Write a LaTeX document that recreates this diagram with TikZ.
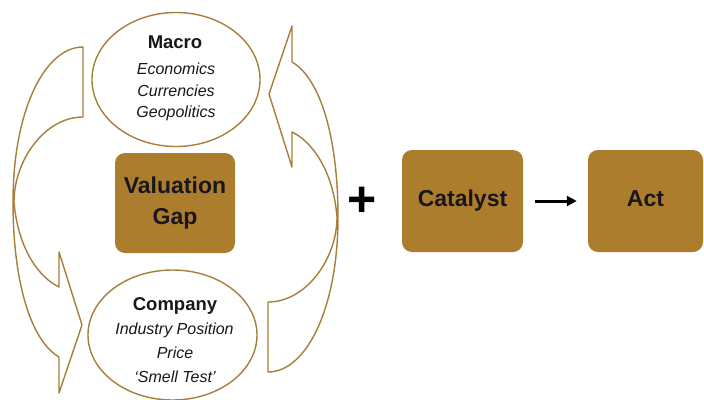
\documentclass[tikz,border=0pt]{standalone}
\usepackage{fontspec}
\setmainfont{Liberation Sans}
\usetikzlibrary{shapes.geometric,arrows.meta}
\definecolor{gold}{RGB}{173,125,46}
\definecolor{goldline}{RGB}{166,127,58}
\definecolor{ink}{RGB}{25,22,28}
\tikzset{
  arrowline/.style={draw=goldline, line width=1.4pt, fill=white, line join=round},
  cvarrow/.pic={
    \path[arrowline] (83,47) -- (83,117)
      .. controls (45,117) and (14,160) .. (14,202)
      .. controls (18,250) and (40,278) .. (59,287)
      -- (59,252) -- (82,325) -- (59,393) -- (59,357)
      .. controls (30,340) and (13,280) .. (13,202)
      .. controls (13,110) and (45,47) .. (83,47) -- cycle;
  },
  ell/.style={ellipse, draw=goldline, line width=1.4pt, fill=white, inner sep=0pt},
  gbox/.style={rectangle, rounded corners=10pt, fill=gold, inner sep=0pt, text=ink,
    font=\fontsize{23}{31}\selectfont\bfseries},
  title/.style={anchor=base, text=ink, font=\fontsize{18.5}{22}\selectfont\bfseries, inner sep=0pt},
  item/.style={anchor=base, text=ink, font=\fontsize{16}{20}\selectfont\itshape, inner sep=0pt}
}
\begin{document}
\begin{tikzpicture}[x=1pt,y=-1pt]
\useasboundingbox[fill=white] (0,0) rectangle (704,399);
% curved arrows
\pic at (0,0) {cvarrow};
\pic[rotate=180] at (351,419) {cvarrow};
% ellipses
\node[ell, minimum width=168pt, minimum height=134pt] (macro) at (176,79.5) {};
\node[ell, minimum width=169pt, minimum height=130pt] (company) at (172.5,335) {};
% ellipse texts
\node[title] (macrot) at (175,48) {Macro};
\node[item] (econ) at (176,74) {Economics};
\node[item] (curr) at (176,96) {Currencies};
\node[item] (geo) at (176,117) {Geopolitics};
\node[title] (compt) at (175,310) {Company};
\node[item] (ind) at (174.5,334) {Industry Position};
\node[item] (price) at (175,358) {Price};
\node[item] (smell) at (175,382) {`Smell Test'};
% boxes
\node[gbox, minimum width=120pt, minimum height=100pt, align=center] (gap) at (175,203) {Valuation\\Gap};
\node[gbox, minimum width=121pt, minimum height=102pt, text height=16.5pt, text depth=4.8pt] (catalyst) at (462.5,201) {Catalyst};
\node[gbox, minimum width=115pt, minimum height=102pt, text height=16.5pt, text depth=4.8pt] (act) at (645.5,201) {Act};
% plus and arrow
\node[text=black, font=\fontsize{50}{50}\selectfont\bfseries, inner sep=0pt] (plus) at (362,202) {+};
\draw[-{Triangle[length=10pt,width=10pt]}, line width=3pt, shorten <=12pt, shorten >=11pt] (catalyst) -- (act);
\end{tikzpicture}
\end{document}
